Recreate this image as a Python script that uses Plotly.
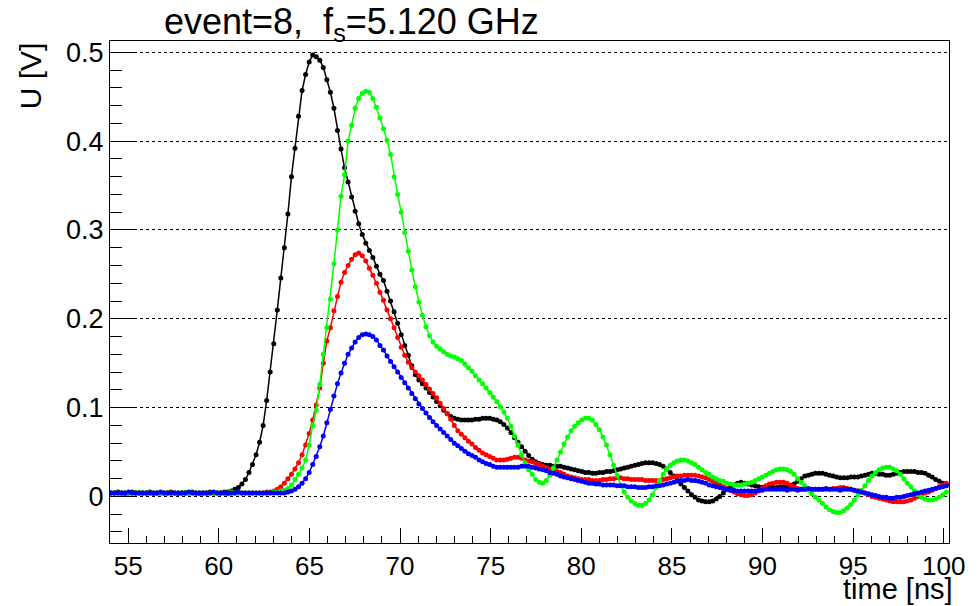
import numpy as np
import plotly.graph_objects as go

# sampling: f_s = 5.120 GHz -> one sample every 1/5.12 ns
FS_GHZ = 5.12
T0_NS = 54.05

black_v = [
    0.004, 0.004, 0.005, 0.004, 0.004, 0.004, 0.005, 0.004, 0.004, 0.004,
    0.004, 0.005, 0.004, 0.004, 0.004, 0.004, 0.004, 0.005, 0.004, 0.004,
    0.004, 0.004, 0.004, 0.005, 0.004, 0.004, 0.004, 0.004, 0.005, 0.004,
    0.004, 0.004, 0.005, 0.005, 0.006, 0.008, 0.010, 0.014, 0.019, 0.027,
    0.036, 0.047, 0.061, 0.080, 0.108, 0.140, 0.172, 0.210, 0.246, 0.280,
    0.318, 0.360, 0.392, 0.428, 0.457, 0.475, 0.489, 0.497, 0.495, 0.491,
    0.483, 0.469, 0.455, 0.437, 0.412, 0.391, 0.370, 0.354, 0.337, 0.321,
    0.307, 0.295, 0.285, 0.277, 0.269, 0.259, 0.250, 0.243, 0.231, 0.220,
    0.208, 0.195, 0.182, 0.170, 0.159, 0.147, 0.137, 0.131, 0.127, 0.122,
    0.117, 0.112, 0.107, 0.102, 0.097, 0.093, 0.090, 0.088, 0.087, 0.086,
    0.086, 0.086, 0.086, 0.087, 0.087, 0.088, 0.088, 0.088, 0.087, 0.086,
    0.084, 0.081, 0.077, 0.072, 0.066, 0.061, 0.056, 0.051, 0.046, 0.042,
    0.039, 0.037, 0.036, 0.035, 0.035, 0.034, 0.034, 0.034, 0.033, 0.032,
    0.031, 0.030, 0.029, 0.028, 0.027, 0.027, 0.026, 0.026, 0.027, 0.027,
    0.028, 0.028, 0.029, 0.030, 0.031, 0.032, 0.033, 0.034, 0.035, 0.036,
    0.037, 0.038, 0.038, 0.038, 0.037, 0.036, 0.034, 0.031, 0.027, 0.023,
    0.018, 0.014, 0.010, 0.006, 0.002, -0.001, -0.004, -0.005, -0.006, -0.006,
    -0.005, -0.003, 0.000, 0.004, 0.008, 0.011, 0.013, 0.015, 0.016, 0.015,
    0.014, 0.013, 0.012, 0.011, 0.010, 0.010, 0.010, 0.010, 0.010, 0.011,
    0.011, 0.011, 0.012, 0.014, 0.017, 0.020, 0.023, 0.024, 0.025, 0.026,
    0.026, 0.026, 0.025, 0.024, 0.023, 0.022, 0.021, 0.021, 0.021, 0.022,
    0.022, 0.022, 0.023, 0.024, 0.025, 0.026, 0.026, 0.025, 0.025, 0.024,
    0.024, 0.025, 0.026, 0.027, 0.028, 0.028, 0.028, 0.028, 0.027, 0.027,
    0.026, 0.024, 0.022, 0.019, 0.017, 0.015, 0.013,
]

green_v = [
    0.004, 0.004, 0.004, 0.003, 0.004, 0.004, 0.004, 0.004, 0.005, 0.004,
    0.004, 0.004, 0.004, 0.004, 0.003, 0.004, 0.004, 0.004, 0.004, 0.004,
    0.004, 0.005, 0.004, 0.004, 0.004, 0.004, 0.003, 0.004, 0.004, 0.004,
    0.004, 0.004, 0.004, 0.004, 0.005, 0.004, 0.004, 0.004, 0.004, 0.004,
    0.004, 0.004, 0.004, 0.004, 0.004, 0.004, 0.005, 0.005, 0.006, 0.007,
    0.009, 0.013, 0.019, 0.025, 0.032, 0.041, 0.058, 0.080, 0.097, 0.126,
    0.160, 0.190, 0.222, 0.262, 0.300, 0.338, 0.362, 0.400, 0.418, 0.437,
    0.448, 0.454, 0.456, 0.455, 0.448, 0.438, 0.426, 0.414, 0.401, 0.385,
    0.360, 0.340, 0.320, 0.297, 0.276, 0.255, 0.236, 0.219, 0.204, 0.191,
    0.181, 0.174, 0.169, 0.166, 0.163, 0.160, 0.158, 0.157, 0.155, 0.153,
    0.149, 0.145, 0.141, 0.136, 0.131, 0.127, 0.122, 0.117, 0.112, 0.107,
    0.101, 0.095, 0.088, 0.079, 0.068, 0.058, 0.047, 0.038, 0.030, 0.025,
    0.019, 0.016, 0.015, 0.018, 0.024, 0.032, 0.041, 0.050, 0.059, 0.067,
    0.074, 0.079, 0.083, 0.086, 0.088, 0.088, 0.086, 0.081, 0.075, 0.067,
    0.058, 0.047, 0.035, 0.024, 0.013, 0.005, -0.001, -0.005, -0.008, -0.010,
    -0.010, -0.008, -0.004, 0.002, 0.010, 0.018, 0.025, 0.031, 0.035, 0.038,
    0.040, 0.041, 0.041, 0.040, 0.038, 0.036, 0.033, 0.030, 0.027, 0.025,
    0.022, 0.020, 0.018, 0.017, 0.015, 0.014, 0.013, 0.013, 0.013, 0.014,
    0.015, 0.016, 0.018, 0.020, 0.022, 0.024, 0.026, 0.028, 0.030, 0.031,
    0.031, 0.030, 0.028, 0.025, 0.020, 0.016, 0.012, 0.007, 0.003, -0.001,
    -0.004, -0.008, -0.012, -0.015, -0.017, -0.018, -0.018, -0.016, -0.013, -0.009,
    -0.004, 0.002, 0.007, 0.012, 0.018, 0.023, 0.027, 0.030, 0.032, 0.033,
    0.033, 0.031, 0.029, 0.025, 0.020, 0.015, 0.011, 0.006, 0.002, -0.001,
    -0.003, -0.004, -0.004, -0.003, -0.001, 0.002, 0.005,
]

red_v = [
    0.004, 0.004, 0.004, 0.004, 0.003, 0.004, 0.004, 0.004, 0.004, 0.004,
    0.004, 0.004, 0.003, 0.004, 0.004, 0.004, 0.004, 0.004, 0.004, 0.003,
    0.004, 0.004, 0.004, 0.004, 0.004, 0.003, 0.004, 0.004, 0.004, 0.004,
    0.004, 0.004, 0.004, 0.003, 0.004, 0.004, 0.004, 0.004, 0.004, 0.004,
    0.004, 0.004, 0.004, 0.004, 0.005, 0.005, 0.006, 0.008, 0.011, 0.015,
    0.020, 0.025, 0.031, 0.038, 0.047, 0.058, 0.071, 0.086, 0.103, 0.122,
    0.150, 0.175, 0.190, 0.209, 0.225, 0.241, 0.252, 0.260, 0.267, 0.272,
    0.274, 0.271, 0.265, 0.257, 0.249, 0.240, 0.230, 0.221, 0.210, 0.200,
    0.190, 0.179, 0.168, 0.159, 0.151, 0.145, 0.140, 0.136, 0.131, 0.126,
    0.121, 0.116, 0.111, 0.105, 0.099, 0.093, 0.087, 0.080, 0.074, 0.070,
    0.066, 0.062, 0.059, 0.055, 0.052, 0.049, 0.047, 0.045, 0.043, 0.041,
    0.041, 0.041, 0.042, 0.043, 0.044, 0.044, 0.043, 0.041, 0.040, 0.039,
    0.037, 0.036, 0.034, 0.033, 0.031, 0.030, 0.028, 0.027, 0.025, 0.023,
    0.022, 0.021, 0.020, 0.019, 0.019, 0.019, 0.018, 0.018, 0.018, 0.019,
    0.019, 0.020, 0.020, 0.021, 0.021, 0.020, 0.020, 0.019, 0.019, 0.019,
    0.019, 0.018, 0.018, 0.018, 0.018, 0.018, 0.019, 0.020, 0.021, 0.022,
    0.023, 0.023, 0.024, 0.024, 0.024, 0.024, 0.023, 0.022, 0.021, 0.019,
    0.017, 0.015, 0.013, 0.011, 0.009, 0.007, 0.005, 0.003, 0.002, 0.001,
    0.001, 0.002, 0.004, 0.006, 0.009, 0.012, 0.014, 0.015, 0.016, 0.016,
    0.016, 0.015, 0.013, 0.011, 0.009, 0.008, 0.008, 0.008, 0.008, 0.008,
    0.008, 0.008, 0.008, 0.008, 0.009, 0.009, 0.010, 0.010, 0.009, 0.008,
    0.007, 0.006, 0.005, 0.004, 0.002, 0.000, -0.001, -0.002, -0.003, -0.004,
    -0.005, -0.006, -0.006, -0.006, -0.006, -0.005, -0.004, -0.002, 0.000, 0.002,
    0.004, 0.005, 0.007, 0.009, 0.011, 0.013, 0.015,
]

blue_v = [
    0.004, 0.004, 0.004, 0.004, 0.004, 0.005, 0.004, 0.004, 0.004, 0.004,
    0.004, 0.004, 0.004, 0.004, 0.005, 0.004, 0.004, 0.004, 0.004, 0.004,
    0.004, 0.004, 0.005, 0.004, 0.004, 0.004, 0.004, 0.004, 0.004, 0.005,
    0.004, 0.004, 0.004, 0.004, 0.004, 0.004, 0.005, 0.004, 0.004, 0.004,
    0.004, 0.004, 0.004, 0.004, 0.004, 0.004, 0.004, 0.004, 0.004, 0.004,
    0.005, 0.006, 0.008, 0.011, 0.015, 0.020, 0.027, 0.036, 0.045, 0.056,
    0.068, 0.083, 0.098, 0.113, 0.127, 0.139, 0.150, 0.160, 0.167, 0.174,
    0.179, 0.182, 0.183, 0.182, 0.180, 0.176, 0.170, 0.165, 0.158, 0.152,
    0.146, 0.140, 0.134, 0.128, 0.122, 0.116, 0.110, 0.104, 0.099, 0.094,
    0.089, 0.084, 0.080, 0.076, 0.072, 0.068, 0.064, 0.060, 0.057, 0.054,
    0.051, 0.048, 0.046, 0.044, 0.041, 0.039, 0.037, 0.036, 0.034, 0.033,
    0.033, 0.033, 0.033, 0.033, 0.033, 0.033, 0.034, 0.034, 0.034, 0.033,
    0.032, 0.031, 0.030, 0.029, 0.027, 0.026, 0.025, 0.023, 0.022, 0.021,
    0.020, 0.019, 0.018, 0.017, 0.016, 0.015, 0.015, 0.014, 0.014, 0.013,
    0.013, 0.013, 0.013, 0.012, 0.012, 0.012, 0.011, 0.011, 0.011, 0.010,
    0.010, 0.010, 0.011, 0.011, 0.012, 0.012, 0.013, 0.014, 0.015, 0.016,
    0.017, 0.018, 0.018, 0.019, 0.018, 0.018, 0.017, 0.016, 0.015, 0.013,
    0.012, 0.011, 0.010, 0.009, 0.008, 0.007, 0.007, 0.006, 0.006, 0.006,
    0.006, 0.006, 0.006, 0.007, 0.007, 0.008, 0.008, 0.008, 0.008, 0.008,
    0.008, 0.007, 0.008, 0.008, 0.007, 0.008, 0.008, 0.009, 0.008, 0.008,
    0.008, 0.008, 0.009, 0.008, 0.008, 0.008, 0.007, 0.008, 0.008, 0.008,
    0.007, 0.006, 0.005, 0.004, 0.003, 0.002, 0.001, 0.000, -0.001, -0.001,
    -0.002, -0.002, -0.001, -0.001, 0.000, 0.001, 0.002, 0.003, 0.004, 0.005,
    0.006, 0.007, 0.008, 0.009, 0.010, 0.011, 0.012,
]

series = [
    ("black", black_v, "#000000"),
    ("red", red_v, "#ff0000"),
    ("green", green_v, "#00ff00"),
    ("blue", blue_v, "#0000ff"),
]

X_RANGE = [54.0, 100.29]
Y_RANGE = [-0.0524, 0.5127]
X_TICKS = [55, 60, 65, 70, 75, 80, 85, 90, 95, 100]
Y_TICKS = [0, 0.1, 0.2, 0.3, 0.4, 0.5]
Y_TICK_TEXT = ["0", "0.1", "0.2", "0.3", "0.4", "0.5"]

TITLE = "event=8,  f<sub>s</sub>=5.120 GHz"
X_TITLE = "time [ns]"
Y_TITLE = "U [V]"

FONT = "Liberation Sans, Arial, Helvetica, sans-serif"

fig = go.Figure()
for name, vals, col in series:
    t = T0_NS + np.arange(len(vals)) / FS_GHZ
    fig.add_trace(go.Scatter(
        x=t, y=vals, mode="lines+markers", name=name,
        line=dict(color=col, width=1.5),
        marker=dict(color=col, size=5, symbol="circle"),
        showlegend=False,
    ))

W, H = 977, 606
L, R, T, B = 110, 20, 41, 63
pw, ph = W - L - R, H - T - B

def px(xp):
    return (xp - L) / pw

def py(yp):
    return (H - B - yp) / ph

fig.update_layout(
    width=W, height=H,
    margin=dict(l=L, r=R, t=T, b=B, pad=0),
    paper_bgcolor="white", plot_bgcolor="white",
    font=dict(family=FONT, color="black"),
    xaxis=dict(
        range=X_RANGE, tickvals=X_TICKS, ticks="inside", ticklen=15, tickwidth=1,
        tickcolor="black", showgrid=False, zeroline=False,
        showline=True, linecolor="black", linewidth=1, mirror=True,
        tickfont=dict(size=26, family=FONT),
        minor=dict(dtick=1, tick0=0, ticks="inside", ticklen=7, tickcolor="black", showgrid=False),
    ),
    yaxis=dict(
        range=Y_RANGE, tickvals=Y_TICKS, ticktext=Y_TICK_TEXT, ticks="inside", ticklen=25,
        tickwidth=1, tickcolor="black",
        showgrid=True, gridcolor="black", griddash="dot", gridwidth=1,
        zeroline=False,
        showline=True, linecolor="black", linewidth=1, mirror=True,
        tickfont=dict(size=27, family=FONT),
        minor=dict(dtick=0.02, tick0=0, ticks="inside", ticklen=12, tickcolor="black", showgrid=False),
    ),
    annotations=[
        dict(text=TITLE, xref="paper", yref="paper", x=px(162), y=py(24),
             xanchor="left", yanchor="middle", showarrow=False,
             font=dict(size=36, family=FONT, color="black")),
        dict(text=X_TITLE, xref="paper", yref="paper", x=px(962), y=py(606),
             xanchor="right", yanchor="bottom", showarrow=False, borderpad=0,
             font=dict(size=29, family=FONT, color="black")),
        dict(text=Y_TITLE, xref="paper", yref="paper", x=px(30), y=py(40),
             xanchor="center", yanchor="top", textangle=-90, showarrow=False,
             font=dict(size=30, family=FONT, color="black")),
    ],
)

fig.write_html("out.html")
